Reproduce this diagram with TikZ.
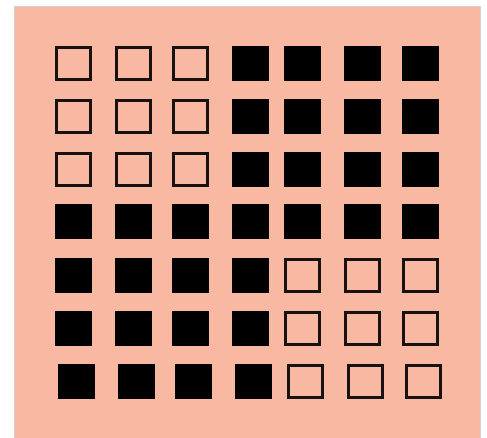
\documentclass[tikz,border=0pt]{standalone}
\usepackage{tikz}
\definecolor{salmon}{HTML}{F8B8A1}
\definecolor{edgegray}{HTML}{D6D0CE}
\definecolor{ink}{HTML}{17120F}
\newcommand{\cellW}{37}
\newcommand{\cellH}{35}
\newcommand{\cella}[3]{%
  \ifcase#3\relax
    \fill[black] (#1,#2) rectangle ++(\cellW,\cellH);%
  \or
    \draw[ink, line width=2.8pt] ({#1+1.4},{#2+1.4}) rectangle ({#1+\cellW-1.4},{#2+\cellH-1.4});%
  \fi}

\begin{document}
\begin{tikzpicture}[x=1pt,y=-1pt]
  \useasboundingbox (0,0) rectangle (487,438);
  \fill[white] (0,0) rectangle (487,438);
  \filldraw[fill=salmon, draw=edgegray, line width=1pt] (14.5,6.5) rectangle (480,440);
  % Raster der Felder
  \foreach \y [count=\r] in {46,99,152,204,258,311,364} {
    \foreach \x [count=\c] in {55,115,172,232,284,344,402} {
      \pgfmathtruncatemacro{\hohl}{((\r<4)&&(\c<4))||((\r>4)&&(\c>4))}
      \pgfmathsetmacro{\dx}{\r==7?3:0}
      \cella{\x+\dx}{\y}{\hohl}
    }
  }
\end{tikzpicture}
\end{document}
